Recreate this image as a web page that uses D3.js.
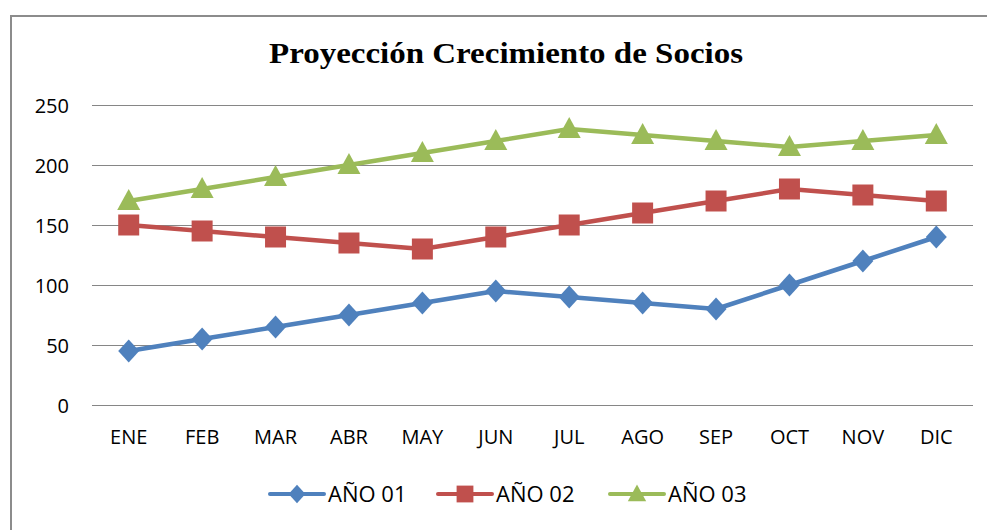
<!DOCTYPE html>
<html><head><meta charset="utf-8">
<script src="https://cdn.jsdelivr.net/npm/d3@7/dist/d3.min.js"></script>
<style>body{margin:0;background:#fff;}svg{display:block;}</style>
</head><body>
<svg id="c" width="987" height="530"></svg>
<script>
const categories = ["ENE","FEB","MAR","ABR","MAY","JUN","JUL","AGO","SEP","OCT","NOV","DIC"];
const ano01 = [45,55,65,75,85,95,90,85,80,100,120,140];
const ano02 = [150,145,140,135,130,140,150,160,170,180,175,170];
const ano03 = [170,180,190,200,210,220,230,225,220,215,220,225];
const yTicks = [0,50,100,150,200,250];
const seriesNames = ["AÑO 01","AÑO 02","AÑO 03"];

const series = [
  {name: seriesNames[0], values: ano01, color: "#4F81BD", shape: "diamond"},
  {name: seriesNames[1], values: ano02, color: "#C0504D", shape: "square"},
  {name: seriesNames[2], values: ano03, color: "#9BBB59", shape: "triangle"}
];

const svg = d3.select("#c");
svg.append("rect").attr("x",11).attr("y",16).attr("width",1000).attr("height",600)
  .attr("fill","none").attr("stroke","#8c8c8c").attr("stroke-width",2);

svg.append("text").attr("x",506).attr("y",63).attr("text-anchor","middle")
  .attr("font-family","Liberation Serif, serif").attr("font-weight","bold")
  .attr("font-size",30).attr("fill","#000")
  .attr("textLength",474).attr("lengthAdjust","spacingAndGlyphs")
  .text("Proyección Crecimiento de Socios");

const x = d3.scaleBand().domain(categories).range([92,973]);
const y = d3.scaleLinear().domain([0,250]).range([405,105]);
const font = "Open Sans, Liberation Sans, sans-serif";

svg.append("g").selectAll("line").data(yTicks).join("line")
  .attr("x1",92).attr("x2",973).attr("y1",d=>y(d)+0.5).attr("y2",d=>y(d)+0.5)
  .attr("stroke","#868686").attr("stroke-width",1);

const yAxis = d3.axisLeft(y).tickValues(yTicks).tickSize(0).tickPadding(0);
const ya = svg.append("g").attr("transform","translate(69,0)").call(yAxis);
ya.select(".domain").remove();
ya.selectAll("text").attr("font-family",font).attr("font-size",20).attr("fill","#000").attr("dy","0.36em");

const xAxis = d3.axisBottom(x).tickSize(0).tickPadding(0);
const xa = svg.append("g").attr("transform","translate(0,430)").call(xAxis);
xa.select(".domain").remove();
xa.selectAll("text").attr("font-family",font).attr("font-size",20).attr("fill","#000").attr("dy","0.71em");

const cx = d => x(d) + x.bandwidth()/2;
function markerPath(shape, k) {
  const p = d3.path();
  if (shape === "diamond") {
    const w = 10.5*k, h = 11.5*k;
    p.moveTo(0,-h); p.lineTo(w,0); p.lineTo(0,h); p.lineTo(-w,0); p.closePath();
  } else if (shape === "square") {
    const s = 10.5*k;
    p.rect(-s,-s,2*s,2*s);
  } else {
    const w = 11.5*k;
    p.moveTo(0,-12*k); p.lineTo(w,9*k); p.lineTo(-w,9*k); p.closePath();
  }
  return p.toString();
}

series.forEach(s => {
  const line = d3.line().x((d,i)=>cx(categories[i])).y(d=>y(d));
  svg.append("path").datum(s.values).attr("d",line).attr("fill","none")
    .attr("stroke",s.color).attr("stroke-width",4.5).attr("stroke-linejoin","round");
  svg.append("g").selectAll("path").data(s.values).join("path")
    .attr("transform",(d,i)=>`translate(${cx(categories[i])},${y(d)})`)
    .attr("d", markerPath(s.shape,1))
    .attr("fill",s.color);
});

const legX = [270, 438, 610];
series.forEach((s,i) => {
  const g = svg.append("g").attr("transform",`translate(${legX[i]},494)`);
  g.append("line").attr("x1",0).attr("x2",54).attr("y1",0).attr("y2",0)
    .attr("stroke",s.color).attr("stroke-width",4).attr("stroke-linecap","round");
  g.append("path").attr("transform","translate(27,0)")
    .attr("d", markerPath(s.shape,0.8)).attr("fill",s.color);
  g.append("text").attr("x",58).attr("y",0).attr("dy","0.36em")
    .attr("font-family",font).attr("font-size",22).attr("fill","#000").text(s.name);
});
</script>
</body></html>
